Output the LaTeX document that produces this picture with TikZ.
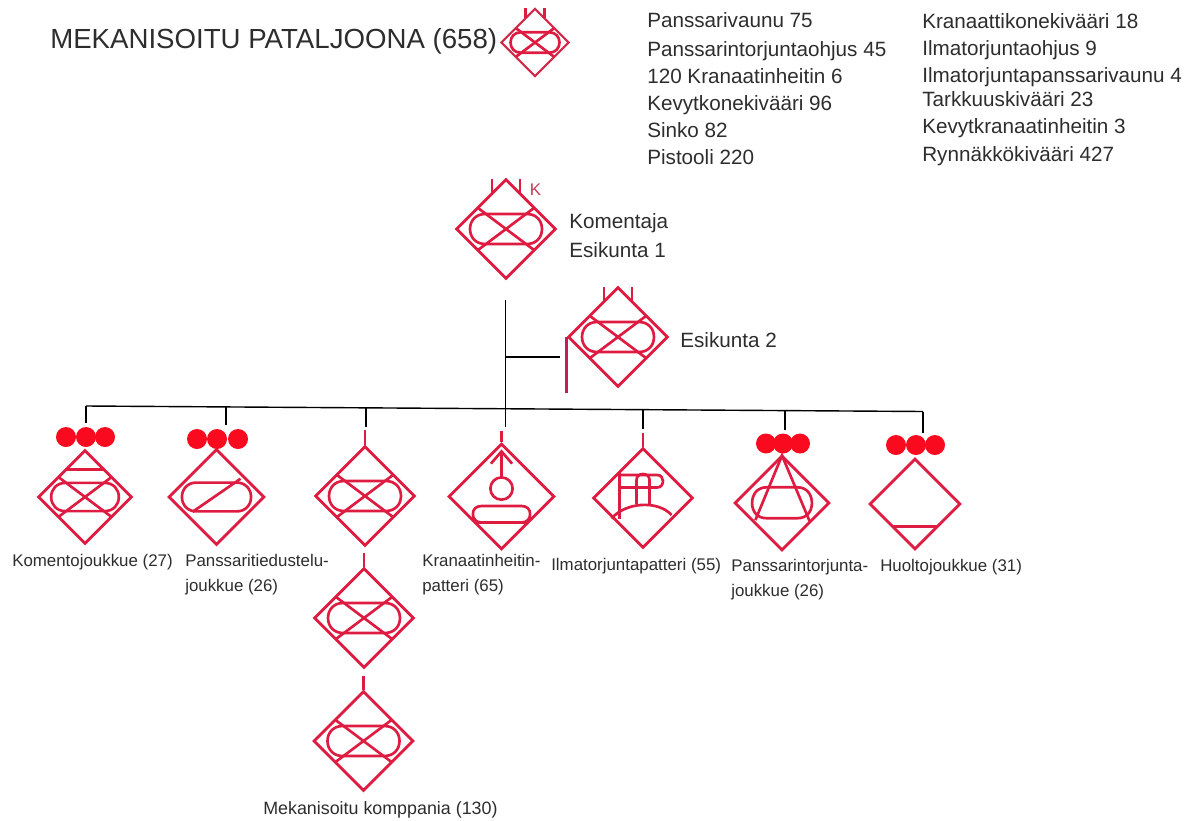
\documentclass[tikz,border=0pt]{standalone}
\usepackage{fontspec}
\setmainfont{Liberation Sans}
\usetikzlibrary{shapes.geometric}
\definecolor{symred}{RGB}{222,28,66}
\definecolor{dotred}{RGB}{250,10,30}
\definecolor{stafred}{RGB}{196,30,90}
\definecolor{inkgray}{RGB}{45,45,45}
\tikzset{
  pics/mechcross/.style={code={
    \draw[symline] (-42,-30) .. controls (-60,-30) and (-72,-17) .. (-72,0) .. controls (-72,17) and (-60,30) .. (-42,30) -- (42,30) .. controls (60,30) and (72,17) .. (72,0) .. controls (72,-17) and (60,-30) .. (42,-30) -- cycle;
    \draw[symline] (-56,-42) -- (56,42);
    \draw[symline] (-56,42) -- (56,-42);
  }},
  pics/reconbar/.style={code={
    \draw[symline] (-42,-30) .. controls (-60,-30) and (-72,-17) .. (-72,0) .. controls (-72,17) and (-60,30) .. (-42,30) -- (42,30) .. controls (60,30) and (72,17) .. (72,0) .. controls (72,-17) and (60,-30) .. (42,-30) -- cycle;
    \draw[symline] (-50,31) -- (50,-38);
  }},
  pics/hqticks/.style={code={
    \draw[symline] (-28,-100) -- (-28,-72);
    \draw[symline] (28,-100) -- (28,-72);
  }},
  pics/mortar/.style={code={
    \draw[symline] (0,-36) -- (0,-85);
    \draw[symline] (-20,-62) -- (0,-85) -- (20,-62);
    \draw[symline] (0,-15) circle (21);
    \draw[symline] (-38,18) .. controls (-48,18) and (-54,24) .. (-54,33) .. controls (-54,42) and (-48,49) .. (-38,49) -- (38,49) .. controls (48,49) and (54,42) .. (54,33) .. controls (54,24) and (48,18) .. (38,18) -- cycle;
    \draw[symline] (-51,49) -- (51,49);
  }},
  pics/aabatt/.style={code={
    \draw[symline] (-47,-50) -- (-47,41);
    \draw[symline] (-47,-46) -- (28,-46) .. controls (36,-46) and (40,-40) .. (40,-34) .. controls (40,-27) and (36,-21) .. (28,-21) -- (-47,-21);
    \draw[symline] (-13,12) -- (-13,-36) .. controls (-13,-52) and (13,-52) .. (13,-36) -- (13,12);
    \draw[symline] (-63,41) .. controls (-35,8) and (30,4) .. (57,34);
  }},
  pics/atcone/.style={code={
    \draw[symline] (-33,-33) .. controls (-52,-33) and (-63,-18) .. (-63,0) .. controls (-63,18) and (-52,32) .. (-33,32) -- (33,32) .. controls (52,32) and (63,18) .. (63,0) .. controls (63,-18) and (52,-33) .. (33,-33) -- cycle;
    \draw[symline] (-56,36) -- (0,-100) -- (58,38);
  }},
  pics/komline/.style={code={
    \draw[symline] (-42,-58) -- (42,-58);
  }},
  pics/servline/.style={code={
    \draw[symline] (-50,49) -- (50,49);
  }},
}
\begin{document}
\begin{tikzpicture}[x=0.025cm,y=-0.025cm]
    \tikzstyle{every node}=[inner sep=0pt,text=inkgray]
    \tikzstyle{symline}=[draw=symred,line width=1.9pt]
    \tikzstyle{orgline}=[draw=black,line width=1pt]
    \tikzstyle{symbox}=[diamond,draw=symred,line width=2pt,minimum size=2*#1*0.025cm]
    \tikzstyle{unitdot}=[circle,fill=dotred,minimum size=0.5cm]
    \tikzstyle{biglabel}=[anchor=west,text height=10.6pt,text depth=3.1pt,font=\fontsize{14.7}{16}\selectfont]
    \tikzstyle{smalllabel}=[anchor=north west,align=left,font=\fontsize{12}{17.5}\selectfont]
    \useasboundingbox (0,0) rectangle (1202,821);
    % title and weapon lists
    \draw (50,41) node[anchor=west,text height=14.2pt,text depth=4.2pt,font=\fontsize{19.65}{21}\selectfont] (title) {MEKANISOITU PATALJOONA (658)};
    \foreach \i/\y/\txt in {1/22/Panssarivaunu 75,2/51/Panssarintorjuntaohjus 45,3/78/120 Kranaatinheitin 6,4/105/Kevytkonekivääri 96,5/132/Sinko 82,6/159/Pistooli 220}
      \draw (647,\y) node[biglabel] (lista\i) {\txt};
    \foreach \i/\y/\txt in {1/23/Kranaattikonekivääri 18,2/50/Ilmatorjuntaohjus 9,3/77/Ilmatorjuntapanssarivaunu 4,4/101/Tarkkuuskivääri 23,5/128/Kevytkranaatinheitin 3,6/156/Rynnäkkökivääri 427}
      \draw (922,\y) node[biglabel] (listb\i) {\txt};
    % symbols
    \draw (535,42.5) node[symbox=34,line width=1.5pt,draw=symred!85!gray] (batl) {};
    \pic[scale=0.34] at (batl) {mechcross};
    \pic[scale=0.34] at (batl) {hqticks};
    \draw (506,229) node[symbox=50] (kom) {};
    \pic[scale=0.5] at (kom) {mechcross};
    \pic[scale=0.5] at (kom) {hqticks};
    \draw (535.5,190) node[text=symred!70!gray,font=\fontsize{12}{14}\selectfont] (komk) {K};
    \draw (618,337) node[symbox=50] (esi) {};
    \pic[scale=0.5] at (esi) {mechcross};
    \pic[scale=0.5] at (esi) {hqticks};
    \draw (85,497) node[symbox=47] (u1) {};
    \pic[scale=0.47] at (u1) {mechcross};
    \pic[scale=0.47] at (u1) {komline};
    \draw (216.5,497) node[symbox=48] (u2) {};
    \pic[scale=0.48] at (u2) {reconbar};
    \draw (365,496) node[symbox=50] (u3) {};
    \pic[scale=0.5] at (u3) {mechcross};
    \draw (501.5,496.5) node[symbox=53] (u4) {};
    \pic[scale=0.53] at (u4) {mortar};
    \draw (643,498) node[symbox=50] (u5) {};
    \pic[scale=0.5] at (u5) {aabatt};
    \draw (782,503) node[symbox=47.5] (u6) {};
    \pic[scale=0.475] at (u6) {atcone};
    \draw (915,504) node[symbox=45.5] (u7) {};
    \pic[scale=0.455] at (u7) {servline};
    \draw (364,618) node[symbox=50] (u8) {};
    \pic[scale=0.5] at (u8) {mechcross};
    \draw (363.5,741) node[symbox=50] (u9) {};
    \pic[scale=0.5] at (u9) {mechcross};
    % platoon dots
    \foreach \i/\x/\y in {1/66/437,2/86/437,3/105/437,4/197/439,5/217/439,6/238/439,7/766/443.5,8/783/443.5,9/800/443.5,10/896/445,11/916/445,12/935/445}
      \draw (\x,\y) node[unitdot] (dot\i) {};
    % organisation lines
    \coordinate (stafftop) at (505.5,300);
    \coordinate (branch) at (505.5,357);
    \coordinate (branchend) at (560,357);
    \coordinate (flagend) at (569,393);
    \foreach \i/\x/\ya/\yb in {1/86/406/423,2/226/406.5/425,3/366/407/427,4/505.5/408/427,5/643/409/429,6/785/410.5/430,7/923/411.5/433} {
      \coordinate (bus\i) at (\x,\ya);
      \coordinate (tick\i) at (\x,\yb);
      \draw[orgline] (bus\i) -- (tick\i);
    }
    \draw[orgline] (bus1) -- (bus7);
    \draw[orgline] (stafftop) -- (bus4);
    \draw[orgline] (branch) -- (branchend);
    \draw[draw=stafred,line width=2pt] (esi.west) -- (esi.west |- flagend);
    % red stubs above the diamonds
    \coordinate (stub3) at (365,430);
    \coordinate (stub4) at (501.5,431);
    \coordinate (stub5) at (643,433);
    \coordinate (stub8) at (364,553);
    \coordinate (stub9) at (363.5,676);
    \foreach \n in {3,4,5,8,9}
      \draw[symline] (u\n.north) -- (stub\n);
    % labels
    \draw (569,223) node[biglabel] (komlabel) {Komentaja};
    \draw (569,252) node[biglabel] (komlabelb) {Esikunta 1};
    \draw (680,342) node[biglabel] (esilabel) {Esikunta 2};
    \draw (12,554) node[smalllabel] (lab1) {Komentojoukkue (27)};
    \draw (185,554) node[smalllabel] (lab2) {Panssaritiedustelu-\\joukkue (26)};
    \draw (422,554) node[smalllabel] (lab4) {Kranaatinheitin-\\patteri (65)};
    \draw (551,558) node[smalllabel] (lab5) {Ilmatorjuntapatteri (55)};
    \draw (731,559) node[smalllabel] (lab6) {Panssarintorjunta-\\joukkue (26)};
    \draw (880,559) node[smalllabel] (lab7) {Huoltojoukkue (31)};
    \draw (263,801) node[smalllabel,font=\fontsize{12.7}{17.5}\selectfont] (lab9) {Mekanisoitu komppania (130)};
\end{tikzpicture}
\end{document}
